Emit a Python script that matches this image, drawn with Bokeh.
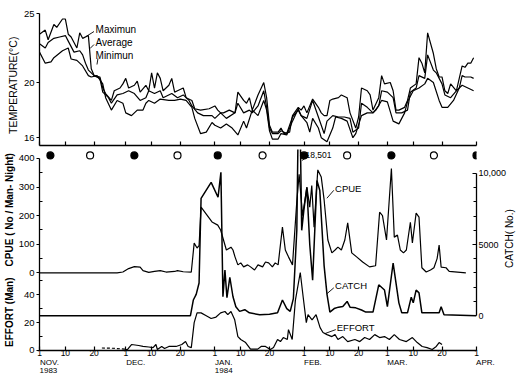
import math
from bokeh.plotting import figure
from bokeh.layouts import column
from bokeh.models import Range1d, LinearAxis, FixedTicker, Label
from bokeh.embed import file_html
from bokeh.resources import INLINE

# ---------------- data (x = days counted from 1 Nov 1983 = day 0) ----------------
TICK_DAYS = [0, 9, 19, 30, 39, 49, 61, 70, 80, 92, 101, 111, 121, 130, 140, 152]
TICK_TEXT = ["1", "10", "20", "1", "10", "20", "1", "10", "20", "1", "10", "20", "1", "10", "20", "1"]
MONTH_DAYS = [0, 30, 61, 92, 121, 152]
MONTH_TEXT = ["NOV.\n1983", "DEC.", "JAN.\n1984", "FEB.", "MAR.", "APR."]

NEW_MOON_DAYS = [3.8, 33, 62, 92, 122.4, 152]      # filled circles
FULL_MOON_DAYS = [17.6, 48, 77.6, 107, 137.2]       # open circles

TMAX_DAY = [0,2,3,5,6,8,9,10,11,12,13,14,15,17,18,19,21,22,23,25,26,28,29,30,31,33,34,35,37,38,39,40,41,42,43,45,46,47,48,50,51,53,54,56,59,61,62,63,64,66,68,69,71,72,73,74,76,78,79,80,81,83,84,85,87,88,90,91,92,93,95,97,98,99,100,101,102,104,105,107,108,110,111,112,114,115,116,118,119,120,122,123,124,125,127,128,129,131,132,133,134,135,137,138,139,140,141,142,143,145,147,148,149,150,151]
TMAX = [23.5,23.8,23.1,24.2,24.0,24.6,24.6,23.5,23.3,22.9,22.5,23.6,23.2,23.4,21.0,20.5,20.4,19.6,19.2,18.7,19.4,19.6,19.9,20.3,19.6,19.8,20.1,19.3,19.8,19.4,20.7,19.6,20.7,20.3,19.4,19.8,20.3,19.3,19.4,19.6,18.9,18.7,18.1,18.0,18.1,18.3,18.0,17.8,17.8,18.0,17.8,19.3,18.7,18.5,18.9,18.0,19.1,20.0,18.9,16.9,16.4,16.4,16.7,16.3,16.4,17.6,18.2,18.0,18.3,17.8,18.8,18.2,17.8,17.6,17.6,18.7,18.8,18.9,19.1,18.9,17.8,16.7,17.5,19.6,19.4,19.1,18.0,18.9,20.5,19.9,20.0,19.4,18.0,18.0,18.2,18.7,19.6,19.9,21.8,21.4,20.7,23.6,22.1,21.0,20.4,20.4,19.4,19.2,19.9,19.4,21.2,21.1,21.4,21.4,21.8]

TAVG_DAY = [0,2,3,5,7,9,10,12,14,15,16,17,19,21,22,24,25,27,29,31,33,35,37,38,40,42,43,46,48,50,52,53,55,57,60,61,63,65,68,69,71,73,74,76,78,79,80,81,83,84,86,88,90,91,93,95,97,99,100,102,104,106,108,109,111,112,114,116,118,119,121,123,124,126,128,129,131,132,134,135,137,138,140,141,143,145,146,147,148,150,151]
TAVG = [22.8,22.5,22.9,23.2,23.3,23.4,23.0,22.2,22.3,22.0,21.4,20.9,20.5,20.3,19.3,18.9,18.5,19.1,19.2,19.4,19.2,18.7,18.9,19.4,19.2,19.4,18.9,19.2,18.9,19.1,18.7,18.3,17.8,17.6,17.6,17.4,17.8,17.4,17.8,18.5,17.8,18.0,17.8,18.3,19.4,18.2,16.7,16.3,16.3,16.5,16.3,17.5,18.0,17.6,17.4,18.7,17.5,16.3,17.2,17.6,17.5,17.5,17.4,16.4,16.7,18.5,18.2,17.8,18.3,19.4,19.3,18.9,17.8,17.8,18.0,19.3,19.6,20.5,20.3,22.0,20.9,20.7,19.9,19.1,18.9,19.4,19.6,20.5,20.4,20.4,20.3]

TMIN_DAY = [0,2,4,5,8,10,11,13,15,17,18,20,22,23,25,27,29,30,32,34,36,37,38,40,42,45,47,49,51,53,54,56,58,60,61,63,65,67,69,71,72,74,76,78,79,80,81,83,84,86,88,90,91,93,94,95,97,98,100,102,103,105,107,109,110,112,114,116,117,119,121,123,125,127,128,130,132,134,135,137,139,140,142,144,146,147,149,151]
TMIN = [22.2,21.4,21.5,21.8,22.3,22.5,21.7,21.6,21.2,20.5,20.4,20.5,19.9,18.9,18.0,18.7,18.5,17.8,17.6,18.0,18.0,18.5,18.7,18.5,18.8,18.7,18.7,18.8,18.7,18.2,17.4,16.3,16.4,17.1,16.9,16.7,17.0,16.7,16.2,17.2,16.7,18.0,17.6,18.7,18.0,16.5,15.9,15.9,16.3,16.2,17.2,18.1,17.6,17.1,16.4,17.4,16.7,16.0,15.7,16.7,17.5,17.4,17.2,16.0,16.3,17.6,17.8,17.8,18.0,18.7,18.6,17.2,17.0,17.8,18.6,19.4,19.6,19.9,20.3,20.0,18.7,18.2,18.2,18.7,19.6,19.8,19.6,19.4]

CPUE_DAY = [0,27,29,31,33,35,36,38,40,42,44,47,48,50,52.8,53.8,54.8,55.5,56.2,60,62,63,64,65,66.6,67.3,68,69,70,71,72.4,73.4,74.8,76,77.6,78.6,79.7,81,82,83,84.5,85.5,86.6,88,89.5,90.3,91.5,93,94,94.7,95.5,96.8,98,99,100.3,101.7,102.8,103.8,105,106.2,107.2,108.6,110.3,112.4,114.8,116.9,118.3,119.3,120.7,122.4,123.4,124.5,125.5,126.6,127.6,129,129.7,131,132,133,134.5,136,137.2,138.3,139,139.7,141.4,142.5,148.3]
CPUE = [0,0,3,15,22,20,8,2,5,8,3,5,8,4,3,104,87,95,230,178,167,150,115,80,90,80,56,28,35,21,28,21,10,28,21,38,35,21,35,28,160,80,56,28,250,345,200,300,230,305,160,360,335,255,115,70,80,90,80,115,175,70,56,38,21,25,212,200,115,365,125,132,80,70,80,177,105,209,195,18,3,10,18,50,97,20,18,5,0]

CATCH_DAY = [0,52.5,53.5,54.5,55.5,56.2,59.7,62.1,63.1,63.8,64.5,65.2,66.2,67.3,68.3,69.6,71.4,73,76.6,80,82.8,84.5,86,87.2,88.3,89.5,90.3,91.2,92,93,94,95,96.5,97.5,99,100,101,102.5,104,105.5,107,108,110,112,113.5,116,118,120,121,123,125,126,128,129.3,130,131,132,133,139,139.7,140.7,152]
CATCH = [0,0,1100,1500,2300,8250,9370,8320,10070,1330,3200,1260,2700,1330,630,300,420,200,70,100,200,1100,500,300,1200,6000,18501,6000,7500,9000,5000,2500,9500,8800,3500,1500,250,500,600,650,1000,600,550,400,250,250,2170,1800,630,3700,900,200,200,1300,900,1800,1600,200,200,630,70,0]

EFFORT_EST_DAY = [21.7, 25.5, 29.7]
EFFORT_EST = [1.8, 1.6, 1.0]
EFFORT_DAY = [29.7,30.5,32,34.5,36,38,39.5,40.5,41,42.5,43.5,45,47.5,49.5,50.8,51.7,52.8,53.8,54.8,56.2,58,59.7,61.4,63,64.5,65.5,66.6,67.9,69,70,71.7,73.4,75.9,77.2,78.6,80.3,81.4,82.8,83.8,84.8,86.2,86.6,87.9,89,90.7,91.7,92.8,93.4,94.8,96.2,97.6,98.6,100,101.7,102.8,103.8,105.5,107.2,109.7,111.4,113.1,114.8,116.6,118.3,120,121.7,123.4,125.2,127.6,129.7,131.4,133.1,134.8,136.6,138,139,140]
EFFORT = [1,0.5,4.3,3.6,3,2.5,2,4.3,0.7,2.9,1.4,2.9,2.9,4.3,6.4,2.9,2.1,20,27,27,25,23,24,27,28,25.7,28,22,10,7.9,5.7,1,1,3,2.9,0.7,2.1,7.9,6.4,9.3,7.9,15,7.9,36,56,38.6,20,25.7,22,25.7,16.4,12.9,11.4,10,11.4,7.9,10,6.4,7.9,6.4,9.3,7.9,11.4,9.3,10,7.9,11.4,7.9,6.4,9.3,5.7,2.9,2.1,0.7,2.9,5.7,4.3]

CPUE_TICKS = [0, 100, 200, 300, 400]
CPUE_MINOR = [50, 150, 250, 350]
EFFORT_TICKS = [0, 20, 40]
EFFORT_MINOR = [10, 30, 50]
CATCH_TICKS = [0, 5000, 10000]
CATCH_TICK_TEXT = ["0", "5000", "10,000"]
CATCH_MINOR = [1000, 2000, 3000, 4000, 6000, 7000, 8000, 9000]
TEMP_TICKS = [16, 20, 25]

TEMP_TITLE = "TEMPERATURE(°C)"
CPUE_TITLE = "CPUE ( No / Man- Night)"
EFFORT_TITLE = "EFFORT (Man)"
CATCH_TITLE = "CATCH( No.)"

# ---------------- layout constants (pixels) ----------------
FONT = "Liberation Sans"
W = 523
TOP_H = 149
BOT_H = 229
LEFT, RIGHT = 37, 45
PX_PER_DAY = (478 - 37) / 152
OFF = TOP_H  # page y of the bottom figure's top edge
NB = "\u00a0"

def to_pixel(a, v):
    v1, p1, v2, p2 = a
    return p1 + (v - v1) * (p2 - p1) / (v2 - v1)

def from_pixel(a, p):
    v1, p1, v2, p2 = a
    return v1 + (p - p1) * (v2 - v1) / (p2 - p1)

def pixel_range(a, top, bottom):
    return Range1d(start=from_pixel(a, bottom), end=from_pixel(a, top))

def day_at(px):
    return (px - LEFT) / PX_PER_DAY

# Arial-metric advance widths (em/1000) used to left-align month names at their ticks
_W = {"N": 722, "O": 778, "V": 667, ".": 278, "D": 722, "E": 667, "C": 722, "J": 500, "A": 667,
      "F": 611, "B": 667, "M": 833, "R": 722, "P": 667}
def left_pad(line):
    em = sum(_W.get(c, 556) for c in line)
    return NB * round(em / 278) + line

TEMP_A = (25, 13, 16, 137.2)                     # top figure canvas pixels
CPUE_A = (0, 273 - OFF, 400, 158 - OFF)          # bottom figure canvas pixels
CATCH_A = (0, 316 - OFF, 10000, 173 - OFF)
EFFORT_A = (0, 351 - OFF, 50, 281 - OFF)
BOT_FRAME = (0, 202)

# short hand-drawn leader strokes from the in-plot labels to their curves (page pixels)
TOP_LEADERS = [((92, 31), (84, 36)), ((92, 44), (88, 48)), ((96, 58), (95, 64))]
BOT_LEADERS = [((309, 155), (302, 160)), ((334, 190), (327, 198)),
               ((334, 288), (327, 294)), ((336, 330), (325, 334))]

x_range = Range1d(0, 152)

def style_axis(ax, size="9.5px"):
    ax.axis_line_color = "black"
    ax.axis_line_width = 1.3
    ax.major_tick_line_color = "black"
    ax.major_tick_line_width = 1.2
    ax.minor_tick_line_color = None
    ax.major_label_text_font = FONT
    ax.major_label_text_font_size = size
    ax.major_label_text_color = "black"
    ax.axis_label_text_font = FONT
    ax.axis_label_text_color = "black"
    ax.axis_label_text_font_style = "normal"

# ---------------- top: temperature ----------------
top = figure(width=W, height=TOP_H, x_range=x_range, y_range=pixel_range(TEMP_A, 10, 145),
             output_backend="svg", toolbar_location=None,
             min_border_left=LEFT, min_border_right=RIGHT, min_border_top=10, min_border_bottom=4)
top.outline_line_color = None
top.grid.visible = False

xa = top.xaxis[0]
style_axis(xa, "0px")
xa.ticker = FixedTicker(ticks=TICK_DAYS)
xa.major_label_overrides = {d: "" for d in TICK_DAYS}
xa.major_tick_in = 4
xa.major_tick_out = 0
xa.major_label_standoff = 0

ya = top.yaxis[0]
style_axis(ya)
ya.ticker = FixedTicker(ticks=TEMP_TICKS)
ya.major_tick_in = 0
ya.major_tick_out = 3
ya.major_label_standoff = 2
ya.bounds = (top.y_range.start, 25)
ya.axis_label = TEMP_TITLE + NB * 5
ya.axis_label_text_font_size = "10.5px"
ya.axis_label_standoff = 2

for d, t in ((TMAX_DAY, TMAX), (TAVG_DAY, TAVG), (TMIN_DAY, TMIN)):
    top.line(d, t, line_color="black", line_width=1.2)

for txt, tv in (("Maximun", 23.84), ("Average", 22.9), ("Minimun", 21.96)):
    top.add_layout(Label(x=19.5, y=tv, text=txt, text_font=FONT, text_font_size="10px",
                         text_baseline="middle", text_align="left", text_color="black"))
top.segment(x0=[day_at(a[0]) for a, b in TOP_LEADERS], y0=[from_pixel(TEMP_A, a[1]) for a, b in TOP_LEADERS],
            x1=[day_at(b[0]) for a, b in TOP_LEADERS], y1=[from_pixel(TEMP_A, b[1]) for a, b in TOP_LEADERS],
            line_color="black", line_width=0.9)

# ---------------- bottom: CPUE, catch, effort ----------------
bot = figure(width=W, height=BOT_H, x_range=x_range, y_range=pixel_range(CPUE_A, *BOT_FRAME),
             output_backend="svg", toolbar_location=None,
             min_border_left=LEFT, min_border_right=RIGHT, min_border_top=0, min_border_bottom=27)
bot.outline_line_color = None
bot.grid.visible = False
bot.extra_y_ranges = {"catch": pixel_range(CATCH_A, *BOT_FRAME),
                      "effort": pixel_range(EFFORT_A, *BOT_FRAME)}

bx = bot.xaxis[0]
style_axis(bx, "8.5px")
bx.ticker = FixedTicker(ticks=TICK_DAYS)
bx.major_label_overrides = dict(zip(TICK_DAYS, TICK_TEXT))
bx.major_tick_in = 4
bx.major_tick_out = 0
bx.major_label_standoff = -1

mx = LinearAxis()
style_axis(mx, "8px")
mx.axis_line_color = None
mx.major_tick_line_color = None
mx.major_tick_in = 0
mx.major_tick_out = 0
mx.major_label_standoff = -1
mx.major_label_text_line_height = 0.95
mx.ticker = FixedTicker(ticks=MONTH_DAYS)
mx.major_label_overrides = {d: "\n".join(left_pad(s) for s in t.split("\n"))
                            for d, t in zip(MONTH_DAYS, MONTH_TEXT)}
bot.add_layout(mx, "below")

def eff_in_cpue(e):
    return round(from_pixel(CPUE_A, to_pixel(EFFORT_A, e)), 4)

by = bot.yaxis[0]
style_axis(by)
by.ticker = FixedTicker(ticks=CPUE_TICKS + [eff_in_cpue(e) for e in EFFORT_TICKS],
                        minor_ticks=CPUE_MINOR + [eff_in_cpue(e) for e in EFFORT_MINOR])
ovr = {v: str(v) for v in CPUE_TICKS}
ovr.update({eff_in_cpue(e): str(e) for e in EFFORT_TICKS})
by.major_label_overrides = ovr
by.major_tick_in = 0
by.major_tick_out = 3
by.minor_tick_line_color = "black"
by.minor_tick_in = 3
by.minor_tick_out = 0
by.major_label_standoff = 2
by.bounds = (eff_in_cpue(0), 400)
# one rotated title line carries both panel titles (effort below, CPUE above)
by.axis_label = EFFORT_TITLE + NB * 4 + CPUE_TITLE
by.axis_label_text_font_size = "10px"
by.axis_label_text_font_style = "bold"
by.axis_label_standoff = 1

cx = LinearAxis(y_range_name="catch")
style_axis(cx, "9px")
cx.ticker = FixedTicker(ticks=CATCH_TICKS, minor_ticks=CATCH_MINOR)
cx.major_label_overrides = dict(zip(CATCH_TICKS, CATCH_TICK_TEXT))
cx.major_tick_in = 4
cx.major_tick_out = 0
cx.minor_tick_line_color = "black"
cx.minor_tick_in = 3
cx.minor_tick_out = 0
cx.major_label_standoff = 2
cx.bounds = (0, 10000)
bot.add_layout(cx, "right")

# catch title, read bottom-to-top, carried as the single tick label of a bare right axis
# (the rotated label starts at its tick, so the tick sits at the text's lower end)
title_pos = round(from_pixel(CATCH_A, 268 - OFF), 3)
tx = LinearAxis(y_range_name="catch")
style_axis(tx, "10px")
tx.axis_line_color = None
tx.major_tick_line_color = None
tx.major_tick_in = 0
tx.major_tick_out = 0
tx.major_label_standoff = 0
tx.ticker = FixedTicker(ticks=[title_pos])
tx.major_label_overrides = {title_pos: CATCH_TITLE}
tx.major_label_orientation = math.pi / 2
bot.add_layout(tx, "right")

bot.line(CPUE_DAY, CPUE, line_color="black", line_width=1.2)
bot.line(CATCH_DAY, CATCH, y_range_name="catch", line_color="black", line_width=1.5)
bot.line(EFFORT_DAY, EFFORT, y_range_name="effort", line_color="black", line_width=1.2)
bot.line(EFFORT_EST_DAY, EFFORT_EST, y_range_name="effort", line_color="black",
         line_width=1.2, line_dash="3 2")

moon_y = from_pixel(CPUE_A, 155 - OFF)
bot.scatter(NEW_MOON_DAYS, [moon_y] * len(NEW_MOON_DAYS), size=7, marker="circle",
            fill_color="black", line_color="black", line_width=1.2)
bot.scatter(FULL_MOON_DAYS, [moon_y] * len(FULL_MOON_DAYS), size=7, marker="circle",
            fill_color="white", line_color="black", line_width=1.2)

def lab(fig, **kw):
    base = dict(text_font=FONT, text_color="black", text_baseline="middle", text_align="left")
    base.update(kw)
    fig.add_layout(Label(**base))

lab(bot, x=92.5, y=from_pixel(CPUE_A, 155 - OFF), text="18,501", text_font_size="8.5px")
lab(bot, x=102.8, y=from_pixel(CPUE_A, 188 - OFF), text="CPUE", text_font_size="9.5px")
lab(bot, x=102.8, y=from_pixel(CATCH_A, 286 - OFF), y_range_name="catch", text="CATCH",
    text_font_size="9.5px")
lab(bot, x=103.4, y=from_pixel(EFFORT_A, 328 - OFF), y_range_name="effort", text="EFFORT",
    text_font_size="9.5px")
bot.segment(x0=[day_at(a[0]) for a, b in BOT_LEADERS], y0=[from_pixel(CPUE_A, a[1] - OFF) for a, b in BOT_LEADERS],
            x1=[day_at(b[0]) for a, b in BOT_LEADERS], y1=[from_pixel(CPUE_A, b[1] - OFF) for a, b in BOT_LEADERS],
            line_color="black", line_width=0.9)

layout = column(top, bot, spacing=0)
open("out.html", "w").write(file_html(layout, INLINE))
